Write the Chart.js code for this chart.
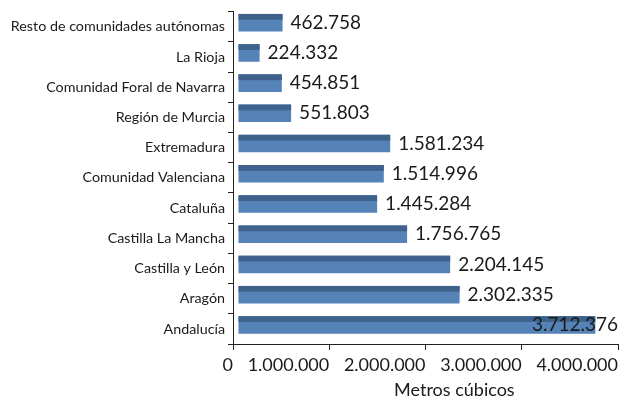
<!DOCTYPE html>
<html>
<head>
<meta charset="utf-8">
<script src="https://cdn.jsdelivr.net/npm/chart.js@4"></script>
<style>
html,body{margin:0;padding:0;background:#fff;}
#wrap{width:627px;height:401px;}
</style>
</head>
<body>
<div id="wrap"><canvas id="c" width="627" height="401"></canvas></div>
<script>
const categories = [
  "Resto de comunidades autónomas",
  "La Rioja",
  "Comunidad Foral de Navarra",
  "Región de Murcia",
  "Extremadura",
  "Comunidad Valenciana",
  "Cataluña",
  "Castilla La Mancha",
  "Castilla y León",
  "Aragón",
  "Andalucía"
];
const volumes = [462758, 224332, 454851, 551803, 1581234, 1514996, 1445284, 1756765, 2204145, 2302335, 3712376];
const xTicks = [0, 1000000, 2000000, 3000000, 4000000];
const axisTitle = "Metros cúbicos";

const FONT = "Lato, 'Open Sans', sans-serif";
const TEXT = "#1a1a1a";
const fmt = v => String(Math.round(v)).replace(/\B(?=(\d{3})+(?!\d))/g, ".");

const barFx = {
  id: "barFx",
  beforeDatasetsDraw(chart) {
    chart.ctx.save();
    chart.ctx.translate(5, -4);
  },
  afterDatasetsDraw(chart) {
    const ctx = chart.ctx;
    const meta = chart.getDatasetMeta(0);
    meta.data.forEach((bar, i) => {
      const p = bar.getProps(["x", "y", "base", "height"], true);
      const top = p.y - p.height / 2;
      ctx.fillStyle = "#3e628c";
      ctx.fillRect(p.base, top, p.x - p.base, p.height * 0.33);
    });
    ctx.font = "19px " + FONT;
    ctx.fillStyle = TEXT;
    ctx.textBaseline = "middle";
    ctx.textAlign = "left";
    const rightLimit = chart.width - 9;
    meta.data.forEach((bar, i) => {
      const p = bar.getProps(["x", "y"], true);
      const txt = fmt(volumes[i]);
      const w = ctx.measureText(txt).width;
      let x = p.x + 8;
      if (x + 5 + w > rightLimit) x = rightLimit - 5 - w;
      ctx.fillText(txt, x, p.y);
    });
    ctx.restore();
    // axis title
    const xs = chart.scales.x;
    ctx.save();
    ctx.font = "18px " + FONT;
    ctx.fillStyle = TEXT;
    ctx.textAlign = "center";
    ctx.textBaseline = "middle";
    ctx.fillText(axisTitle, xs.getPixelForValue(2300000), 390);
    ctx.restore();
  }
};

new Chart(document.getElementById("c"), {
  type: "bar",
  data: {
    labels: categories,
    datasets: [{
      data: volumes,
      backgroundColor: "#5582b7",
      borderWidth: 0,
      barPercentage: 0.58,
      categoryPercentage: 1
    }]
  },
  options: {
    indexAxis: "y",
    responsive: false,
    animation: false,
    devicePixelRatio: 1,
    layout: { padding: { top: 11, right: 9, left: 0, bottom: 0 } },
    plugins: { legend: { display: false }, tooltip: { enabled: false }, title: { display: false } },
    scales: {
      x: {
        min: 0,
        max: 4000000,
        afterBuildTicks: s => { s.ticks = xTicks.map(v => ({ value: v })); },
        afterFit: s => { s.height = 57; },
        grid: { drawOnChartArea: false, drawTicks: true, tickLength: 6, color: "#222" },
        border: { display: true, color: "#222", width: 1 },
        ticks: {
          align: "end",
          padding: 4,
          color: TEXT,
          font: { family: FONT, size: 18 },
          callback: v => fmt(v)
        }
      },
      y: {
        afterFit: s => { s.width = 233; },
        grid: { drawOnChartArea: false, drawTicks: true, tickLength: 5, offset: true, color: "#222" },
        border: { display: true, color: "#222", width: 1 },
        ticks: {
          padding: 3,
          color: TEXT,
          font: { family: FONT, size: 14.3 }
        }
      }
    }
  },
  plugins: [barFx]
});
</script>
</body>
</html>
